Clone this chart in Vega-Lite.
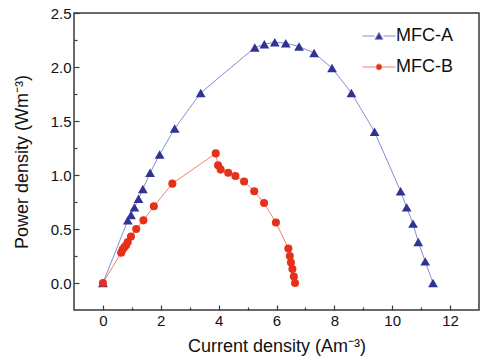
{
  "$schema": "https://vega.github.io/schema/vega-lite/v6.json",
  "width": 405,
  "height": 297,
  "autosize": "none",
  "padding": {"left": 74, "top": 13, "right": 14, "bottom": 54},
  "background": "white",
  "config": {
    "view": {"stroke": "#3a3a3a", "strokeWidth": 1.5},
    "font": "Liberation Sans",
    "axis": {"domain": false, "grid": false, "labelFont": "Liberation Sans", "titleFont": "Liberation Sans", "labelFontSize": 15, "titleFontSize": 18, "titleFontWeight": "normal", "labelColor": "#111", "titleColor": "#111", "tickColor": "#3a3a3a", "tickWidth": 1.2}
  },
  "data": {"values": [
    {"s": "MFC-A", "i": 0, "x": 0.0, "y": 0.0},
    {"s": "MFC-A", "i": 1, "x": 0.86, "y": 0.58},
    {"s": "MFC-A", "i": 2, "x": 0.97, "y": 0.63},
    {"s": "MFC-A", "i": 3, "x": 1.09, "y": 0.70},
    {"s": "MFC-A", "i": 4, "x": 1.23, "y": 0.78},
    {"s": "MFC-A", "i": 5, "x": 1.38, "y": 0.87},
    {"s": "MFC-A", "i": 6, "x": 1.63, "y": 1.02},
    {"s": "MFC-A", "i": 7, "x": 1.96, "y": 1.19},
    {"s": "MFC-A", "i": 8, "x": 2.48, "y": 1.43},
    {"s": "MFC-A", "i": 9, "x": 3.38, "y": 1.76},
    {"s": "MFC-A", "i": 10, "x": 5.25, "y": 2.18},
    {"s": "MFC-A", "i": 11, "x": 5.58, "y": 2.21},
    {"s": "MFC-A", "i": 12, "x": 5.94, "y": 2.23},
    {"s": "MFC-A", "i": 13, "x": 6.32, "y": 2.22},
    {"s": "MFC-A", "i": 14, "x": 6.78, "y": 2.19},
    {"s": "MFC-A", "i": 15, "x": 7.30, "y": 2.13},
    {"s": "MFC-A", "i": 16, "x": 7.92, "y": 1.99},
    {"s": "MFC-A", "i": 17, "x": 8.59, "y": 1.76},
    {"s": "MFC-A", "i": 18, "x": 9.39, "y": 1.40},
    {"s": "MFC-A", "i": 19, "x": 10.29, "y": 0.85},
    {"s": "MFC-A", "i": 20, "x": 10.50, "y": 0.70},
    {"s": "MFC-A", "i": 21, "x": 10.72, "y": 0.55},
    {"s": "MFC-A", "i": 22, "x": 10.90, "y": 0.38},
    {"s": "MFC-A", "i": 23, "x": 11.14, "y": 0.20},
    {"s": "MFC-A", "i": 24, "x": 11.41, "y": 0.0},
    {"s": "MFC-B", "i": 0, "x": 0.0, "y": 0.0},
    {"s": "MFC-B", "i": 1, "x": 0.63, "y": 0.28},
    {"s": "MFC-B", "i": 2, "x": 0.68, "y": 0.31},
    {"s": "MFC-B", "i": 3, "x": 0.74, "y": 0.33},
    {"s": "MFC-B", "i": 4, "x": 0.80, "y": 0.35},
    {"s": "MFC-B", "i": 5, "x": 0.86, "y": 0.38},
    {"s": "MFC-B", "i": 6, "x": 0.97, "y": 0.43},
    {"s": "MFC-B", "i": 7, "x": 1.15, "y": 0.50},
    {"s": "MFC-B", "i": 8, "x": 1.40, "y": 0.58},
    {"s": "MFC-B", "i": 9, "x": 1.76, "y": 0.71},
    {"s": "MFC-B", "i": 10, "x": 2.40, "y": 0.92},
    {"s": "MFC-B", "i": 11, "x": 3.90, "y": 1.20},
    {"s": "MFC-B", "i": 12, "x": 3.98, "y": 1.09},
    {"s": "MFC-B", "i": 13, "x": 4.07, "y": 1.05},
    {"s": "MFC-B", "i": 14, "x": 4.33, "y": 1.02},
    {"s": "MFC-B", "i": 15, "x": 4.58, "y": 0.99},
    {"s": "MFC-B", "i": 16, "x": 4.88, "y": 0.94},
    {"s": "MFC-B", "i": 17, "x": 5.23, "y": 0.85},
    {"s": "MFC-B", "i": 18, "x": 5.57, "y": 0.74},
    {"s": "MFC-B", "i": 19, "x": 5.98, "y": 0.56},
    {"s": "MFC-B", "i": 20, "x": 6.41, "y": 0.32},
    {"s": "MFC-B", "i": 21, "x": 6.46, "y": 0.25},
    {"s": "MFC-B", "i": 22, "x": 6.50, "y": 0.19},
    {"s": "MFC-B", "i": 23, "x": 6.55, "y": 0.13},
    {"s": "MFC-B", "i": 24, "x": 6.60, "y": 0.06},
    {"s": "MFC-B", "i": 25, "x": 6.64, "y": 0.0}
  ]},
  "resolve": {"axis": {"x": "independent", "y": "independent"}},
  "layer": [
    {
      "mark": {"type": "line", "strokeWidth": 1},
      "encoding": {
        "x": {"field": "x", "type": "quantitative", "scale": {"domain": [-1, 13], "nice": false, "zero": false},
          "axis": {"orient": "bottom", "values": [0, 2, 4, 6, 8, 10, 12], "tickSize": -5, "labelPadding": 8, "title": "Current density (Am⁻³)", "titlePadding": 9}},
        "y": {"field": "y", "type": "quantitative", "scale": {"domain": [-0.25, 2.5], "nice": false, "zero": false},
          "axis": {"orient": "left", "values": [0, 0.5, 1, 1.5, 2, 2.5], "format": ".1f", "tickSize": -5, "labelPadding": 8, "title": "Power density (Wm⁻³)", "titlePadding": 19}},
        "stroke": {"field": "s", "type": "nominal", "scale": {"domain": ["MFC-A", "MFC-B"], "range": ["#8a8ad8", "#f2836a"]},
          "legend": {"title": null, "orient": "none", "legendX": 288, "legendY": 6, "labelFontSize": 18, "labelFont": "Liberation Sans", "labelColor": "#111", "symbolSize": 1089, "labelOffset": 0, "rowPadding": 5,
            "encode": {"symbols": {"update": {
              "shape": {"signal": "datum.value === 'MFC-A' ? 'M-1,0L-0.26,0M0.26,0L1,0M-0.24,0.2L0,-0.22L0.24,0.2Z' : 'M-1,0L-0.2,0M0.2,0L1,0M-0.18,0A0.18,0.18,0,1,0,0.18,0A0.18,0.18,0,1,0,-0.18,0Z'"},
              "fill": {"signal": "datum.value === 'MFC-A' ? '#2f3493' : '#e5301c'"},
              "strokeWidth": {"value": 1},
              "opacity": {"value": 1}
            }}}}},
        "order": {"field": "i", "type": "quantitative"}
      }
    },
    {
      "transform": [{"filter": "datum.s === 'MFC-A'"}],
      "mark": {"type": "point", "filled": true, "opacity": 1, "shape": "triangle-up", "size": 95, "color": "#2f3493"},
      "encoding": {
        "x": {"field": "x", "type": "quantitative", "scale": {"domain": [-1, 13], "nice": false, "zero": false},
          "axis": {"orient": "bottom", "values": [1, 3, 5, 7, 9, 11], "tickSize": -3, "labels": false, "title": null}},
        "y": {"field": "y", "type": "quantitative", "scale": {"domain": [-0.25, 2.5], "nice": false, "zero": false},
          "axis": {"orient": "left", "values": [0.25, 0.75, 1.25, 1.75, 2.25], "tickSize": -3, "labels": false, "title": null}}
      }
    },
    {
      "transform": [{"filter": "datum.s === 'MFC-B'"}],
      "mark": {"type": "point", "filled": true, "opacity": 1, "shape": "circle", "size": 65, "color": "#e5301c"},
      "encoding": {
        "x": {"field": "x", "type": "quantitative", "scale": {"domain": [-1, 13], "nice": false, "zero": false}, "axis": null},
        "y": {"field": "y", "type": "quantitative", "scale": {"domain": [-0.25, 2.5], "nice": false, "zero": false}, "axis": null}
      }
    }
  ]
}
